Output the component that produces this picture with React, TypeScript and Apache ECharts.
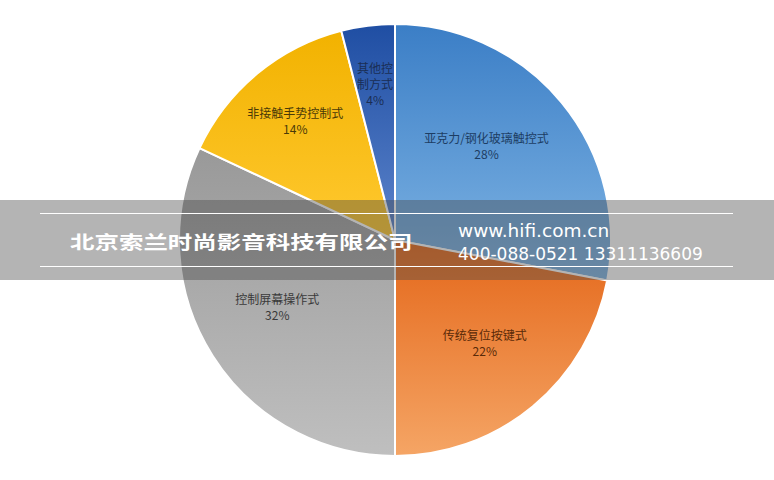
import React, { useEffect, useRef } from "react";
import * as echarts from "echarts";

const categories = ["亚克力/钢化玻璃触控式", "传统复位按键式", "控制屏幕操作式", "非接触手势控制式", "其他控制方式"];
const values = [28, 22, 32, 14, 4];
const topColors = ["#3b7ec6", "#e4671a", "#999999", "#f2b200", "#1f4ea3"];
const bottomColors = ["#80b5e4", "#f5a565", "#bfbfbf", "#ffc930", "#5c84cb"];
const labelColors = ["#1d3d63", "#5a2a08", "#3a3a3a", "#4a3a08", "#1a2e55"];
const labelOffsets: [number, number][] = [[6, -24], [19, 17], [-24, 7], [-29, -34], [-6, -46]];
const labelWidths = [0, 0, 0, 0, 38];

const companyText = "北京索兰时尚影音科技有限公司";
const webText = "www.hifi.com.cn";
const phoneText = "400-088-0521 13311136609";

export default function App() {
  const ref = useRef<HTMLDivElement>(null);
  useEffect(() => {
    document.body.style.margin = "0";
    const chart = echarts.init(ref.current!, undefined, { renderer: "svg" });
    const data = categories.map((name, i) => ({
      name,
      value: values[i],
      itemStyle: {
        color: new echarts.graphic.LinearGradient(0, 0, 0, 1, [
          { offset: 0, color: topColors[i] },
          { offset: 1, color: bottomColors[i] },
        ]),
      },
      label: {
        color: labelColors[i],
        offset: labelOffsets[i],
        ...(labelWidths[i] ? { width: labelWidths[i], overflow: "break" } : {}),
      },
    }));
    chart.setOption({
      animation: false,
      backgroundColor: "#ffffff",
      series: [
        {
          type: "pie",
          center: [395, 240],
          radius: 216,
          startAngle: 90,
          clockwise: true,
          avoidLabelOverlap: false,
          itemStyle: { borderColor: "#ffffff", borderWidth: 2 },
          label: {
            show: true,
            position: "inside",
            fontFamily: "Noto Sans CJK SC",
            fontSize: 12,
            lineHeight: 16,
            align: "center",
            formatter: (p: any) => `${p.name}\n${p.value}%`,
          },
          labelLine: { show: false },
          emphasis: { disabled: true },
          data,
        },
      ],
      graphic: [
        {
          type: "rect",
          z: 100,
          shape: { x: 0, y: 200, width: 774, height: 80 },
          style: { fill: "rgba(73,73,73,0.41)" },
        },
        {
          type: "line",
          z: 101,
          shape: { x1: 40, y1: 213.5, x2: 733, y2: 213.5 },
          style: { stroke: "#ffffff", lineWidth: 1 },
        },
        {
          type: "line",
          z: 101,
          shape: { x1: 40, y1: 266.5, x2: 733, y2: 266.5 },
          style: { stroke: "#ffffff", lineWidth: 1 },
        },
        {
          type: "text",
          z: 102,
          x: 70,
          y: 241,
          scaleX: 1.36,
          style: {
            text: companyText,
            fill: "#ffffff",
            font: "bold 18px 'Noto Sans CJK SC'",
            verticalAlign: "middle",
            align: "left",
          },
        },
        {
          type: "text",
          z: 102,
          x: 458,
          y: 230,
          style: {
            text: webText,
            fill: "#ffffff",
            font: "18.5px 'DejaVu Sans'",
            verticalAlign: "middle",
            align: "left",
          },
        },
        {
          type: "text",
          z: 102,
          x: 458,
          y: 254,
          style: {
            text: phoneText,
            fill: "#ffffff",
            font: "17px 'DejaVu Sans'",
            verticalAlign: "middle",
            align: "left",
          },
        },
      ],
    });
    return () => chart.dispose();
  }, []);
  return <div ref={ref} style={{ width: 774, height: 480 }} />;
}
